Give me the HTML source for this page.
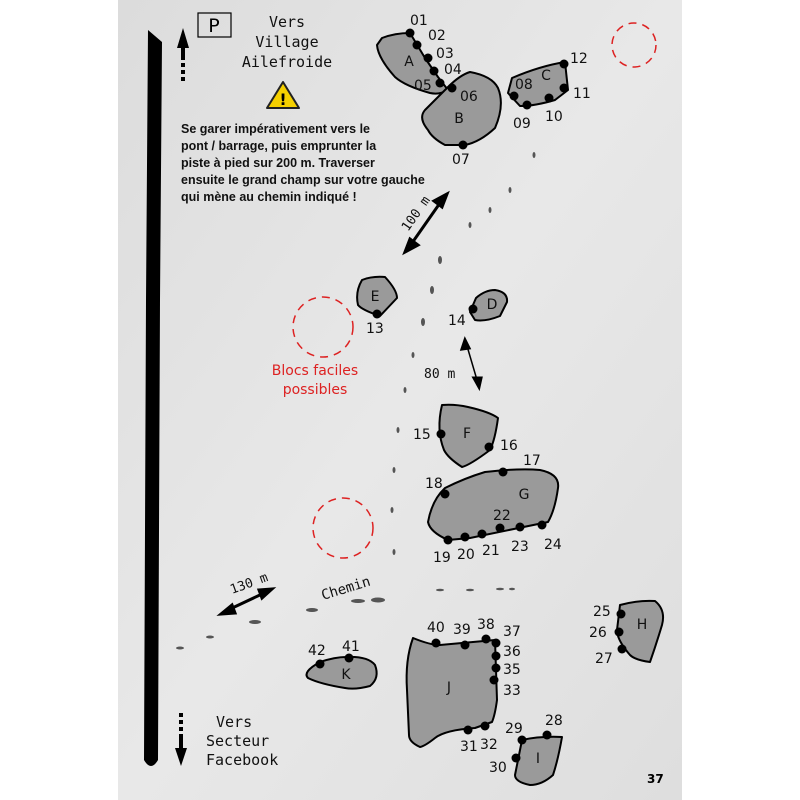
<!DOCTYPE html>
<html><head><meta charset="utf-8"><style>
html,body{margin:0;padding:0;background:#fff}
svg{display:block}
text{font-family:"DejaVu Sans","Liberation Sans",sans-serif}
.n{font-size:14px;fill:#111}
.m{font-family:"DejaVu Sans Mono","Liberation Mono",monospace;font-size:15px;fill:#111}
.s{fill:#9a9a9a;stroke:#000;stroke-width:2;stroke-linejoin:round}
</style></head><body>
<svg width="800" height="800" viewBox="0 0 800 800" xmlns="http://www.w3.org/2000/svg">
<defs><linearGradient id="g" x1="0" y1="0" x2="1" y2="1"><stop offset="0" stop-color="#dcdcdc"/><stop offset="0.5" stop-color="#e8e8e8"/><stop offset="1" stop-color="#dedede"/></linearGradient></defs>
<rect x="118" y="0" width="564" height="800" fill="url(#g)"/>
<path d="M148 30 L162 42 L160 300 L158 760 Q151 772 144 760 L146 300 Z" fill="#000"/>
<path d="M183 28 L177 48 L181 48 L181 60 L185 60 L185 48 L189 48 Z" fill="#000"/>
<rect x="181" y="63" width="4" height="4" fill="#000"/><rect x="181" y="70" width="4" height="4" fill="#000"/><rect x="181" y="77" width="4" height="4" fill="#000"/>
<rect x="179" y="713" width="4" height="4" fill="#000"/><rect x="179" y="720" width="4" height="4" fill="#000"/><rect x="179" y="727" width="4" height="4" fill="#000"/>
<path d="M179 734 L183 734 L183 748 L187 748 L181 766 L175 748 L179 748 Z" fill="#000"/>
<rect x="198" y="13" width="33" height="24" fill="none" stroke="#000" stroke-width="1.2"/>
<text x="214" y="32" text-anchor="middle" style="font-size:19px">P</text>
<text class="m" text-anchor="middle"><tspan x="287" y="27">Vers</tspan><tspan x="287" y="47">Village</tspan><tspan x="287" y="67">Ailefroide</tspan></text>
<path d="M283 82 L299 108 L267 108 Z" fill="#f5d000" stroke="#222" stroke-width="2" stroke-linejoin="round"/>
<text x="283" y="105" text-anchor="middle" style="font-size:16px;font-weight:bold">!</text>
<text style="font-family:'Liberation Sans',sans-serif;font-weight:bold;font-size:12.5px" fill="#111"><tspan x="181" y="133">Se garer impérativement vers le</tspan><tspan x="181" y="150">pont / barrage, puis emprunter la</tspan><tspan x="181" y="167">piste à pied sur 200 m. Traverser</tspan><tspan x="181" y="184">ensuite le grand champ sur votre gauche</tspan><tspan x="181" y="201">qui mène au chemin indiqué !</tspan></text>
<g fill="none" stroke="#d22" stroke-width="1.5" stroke-dasharray="8 6">
<circle cx="634" cy="45" r="22"/><circle cx="323" cy="327" r="30"/><circle cx="343" cy="528" r="30"/></g>
<text x="315" y="375" text-anchor="middle" fill="#d22" style="font-size:14px">Blocs faciles</text>
<text x="315" y="394" text-anchor="middle" fill="#d22" style="font-size:14px">possibles</text>
<g fill="#555">
<ellipse cx="440" cy="260" rx="2" ry="4"/><ellipse cx="432" cy="290" rx="2" ry="4"/><ellipse cx="423" cy="322" rx="2" ry="4"/><ellipse cx="413" cy="355" rx="1.5" ry="3"/><ellipse cx="405" cy="390" rx="1.5" ry="3"/><ellipse cx="398" cy="430" rx="1.5" ry="3"/><ellipse cx="394" cy="470" rx="1.5" ry="3"/><ellipse cx="392" cy="510" rx="1.5" ry="3"/><ellipse cx="394" cy="552" rx="1.5" ry="3"/>
<ellipse cx="510" cy="190" rx="1.5" ry="3"/><ellipse cx="490" cy="210" rx="1.5" ry="3"/><ellipse cx="470" cy="225" rx="1.5" ry="3"/><ellipse cx="534" cy="155" rx="1.5" ry="3"/>
<ellipse cx="358" cy="601" rx="7" ry="2"/><ellipse cx="378" cy="600" rx="7" ry="2.5"/><ellipse cx="312" cy="610" rx="6" ry="2"/><ellipse cx="255" cy="622" rx="6" ry="2"/><ellipse cx="210" cy="637" rx="4" ry="1.5"/><ellipse cx="180" cy="648" rx="4" ry="1.5"/>
<ellipse cx="440" cy="590" rx="4" ry="1.2"/><ellipse cx="470" cy="590" rx="4" ry="1.2"/><ellipse cx="500" cy="589" rx="4" ry="1.2"/><ellipse cx="512" cy="589" rx="3" ry="1.2"/>
</g>
<g stroke="#000" stroke-width="3" fill="#000">
<line x1="412" y1="243" x2="440" y2="203"/><path d="M447 194 L434 201 L442 207 Z"/><path d="M405 252 L418 245 L410 239 Z"/>
<line x1="467" y1="346" x2="477" y2="380" stroke-width="1.5"/><path d="M465 340 L462 349 L469 348 Z"/><path d="M479 387 L474 378 L481 378 Z"/>
<line x1="228" y1="610" x2="262" y2="594"/><path d="M221 614 L232 605 L235 613 Z"/><path d="M272 589 L259 590 L262 598 Z"/>
</g>
<text class="m" transform="translate(408 232) rotate(-55)" style="font-size:13px">100 m</text>
<text class="m" x="424" y="378" style="font-size:13px">80 m</text>
<text class="m" transform="translate(232 594) rotate(-20)" style="font-size:13px">130 m</text>
<text class="m" transform="translate(323 600) rotate(-17)" style="font-size:14px">Chemin</text>
<path class="s" d="M382 38 Q395 33 410 33 L425 58 L438 77 L448 90 Q440 95 430 93 Q405 86 395 77 Q378 58 377 45 Z"/>
<path class="s" d="M448 87 Q460 75 470 72 Q492 76 498 88 Q505 105 495 128 Q480 142 465 145 L445 145 Q432 138 428 130 Q418 118 425 110 Z"/>
<path class="s" d="M512 78 Q540 66 565 62 L568 90 L555 100 Q535 106 520 106 L508 93 Z"/>
<path class="s" d="M362 280 Q372 276 385 277 Q397 290 397 298 L380 316 Q362 310 358 305 Q355 292 362 280 Z"/>
<path class="s" d="M476 298 Q485 290 495 290 Q508 292 507 302 L500 316 Q485 322 475 320 L470 312 Z"/>
<path class="s" d="M442 405 Q455 404 468 407 Q490 412 498 418 Q495 440 490 450 Q470 465 462 467 Q448 458 444 450 Q436 430 442 405 Z"/>
<path class="s" d="M445 488 Q465 478 485 472 Q520 468 540 470 Q560 474 558 488 Q555 510 548 522 Q500 532 470 538 L448 540 Q430 532 428 522 Q432 500 445 488 Z"/>
<path class="s" d="M620 605 Q638 600 655 601 Q666 610 662 625 Q656 645 650 662 Q635 660 630 655 Q617 640 617 630 Z"/>
<path class="s" d="M413 638 Q430 645 440 645 L495 640 L497 700 Q495 715 492 722 L475 728 Q445 730 435 738 Q425 746 420 747 Q409 742 409 735 L407 690 Q405 660 413 638 Z"/>
<path class="s" d="M320 662 Q335 657 346 657 Q368 656 375 665 Q380 678 370 686 Q355 690 345 688 Q320 684 308 678 Q302 672 320 662 Z"/>
<path class="s" d="M522 740 Q540 736 562 737 Q558 760 553 775 Q542 785 530 785 Q515 782 515 775 L518 760 Z"/>
<g class="n" text-anchor="middle">
<text x="409" y="66">A</text><text x="459" y="123">B</text><text x="546" y="80">C</text><text x="375" y="301">E</text><text x="492" y="309">D</text><text x="467" y="438">F</text><text x="524" y="499">G</text><text x="642" y="629">H</text><text x="449" y="692">J</text><text x="346" y="679">K</text><text x="538" y="763">I</text>
</g>
<g fill="#000">
<circle cx="410" cy="33" r="4.5"/><circle cx="417" cy="45" r="4.5"/><circle cx="428" cy="58" r="4.5"/><circle cx="434" cy="71" r="4.5"/><circle cx="440" cy="83" r="4.5"/><circle cx="452" cy="88" r="4.5"/><circle cx="463" cy="145" r="4.5"/>
<circle cx="514" cy="96" r="4.5"/><circle cx="527" cy="105" r="4.5"/><circle cx="549" cy="98" r="4.5"/><circle cx="564" cy="88" r="4.5"/><circle cx="564" cy="64" r="4.5"/>
<circle cx="377" cy="314" r="4.5"/><circle cx="473" cy="309" r="4.5"/>
<circle cx="441" cy="434" r="4.5"/><circle cx="489" cy="447" r="4.5"/>
<circle cx="503" cy="472" r="4.5"/><circle cx="445" cy="494" r="4.5"/><circle cx="448" cy="540" r="4.5"/><circle cx="465" cy="537" r="4.5"/><circle cx="482" cy="534" r="4.5"/><circle cx="500" cy="528" r="4.5"/><circle cx="520" cy="527" r="4.5"/><circle cx="542" cy="525" r="4.5"/>
<circle cx="621" cy="614" r="4.5"/><circle cx="619" cy="632" r="4.5"/><circle cx="622" cy="649" r="4.5"/>
<circle cx="436" cy="643" r="4.5"/><circle cx="465" cy="645" r="4.5"/><circle cx="486" cy="639" r="4.5"/><circle cx="496" cy="643" r="4.5"/><circle cx="496" cy="656" r="4.5"/><circle cx="496" cy="668" r="4.5"/><circle cx="494" cy="680" r="4.5"/><circle cx="485" cy="726" r="4.5"/><circle cx="468" cy="730" r="4.5"/>
<circle cx="522" cy="740" r="4.5"/><circle cx="547" cy="735" r="4.5"/><circle cx="516" cy="758" r="4.5"/>
<circle cx="320" cy="664" r="4.5"/><circle cx="349" cy="658" r="4.5"/>
</g>
<g class="n">
<text x="410" y="25">01</text><text x="428" y="40">02</text><text x="436" y="58">03</text><text x="444" y="74">04</text><text x="414" y="90">05</text><text x="460" y="101">06</text><text x="452" y="164">07</text>
<text x="515" y="89">08</text><text x="513" y="128">09</text><text x="545" y="121">10</text><text x="573" y="98">11</text><text x="570" y="63">12</text>
<text x="366" y="333">13</text><text x="448" y="325">14</text>
<text x="413" y="439">15</text><text x="500" y="450">16</text><text x="523" y="465">17</text><text x="425" y="488">18</text>
<text x="433" y="562">19</text><text x="457" y="559">20</text><text x="482" y="555">21</text><text x="493" y="520">22</text><text x="511" y="551">23</text><text x="544" y="549">24</text>
<text x="593" y="616">25</text><text x="589" y="637">26</text><text x="595" y="663">27</text>
<text x="545" y="725">28</text><text x="505" y="733">29</text><text x="489" y="772">30</text><text x="460" y="751">31</text><text x="480" y="749">32</text>
<text x="503" y="695">33</text><text x="503" y="674">35</text><text x="503" y="656">36</text><text x="503" y="636">37</text><text x="477" y="629">38</text><text x="453" y="634">39</text><text x="427" y="632">40</text>
<text x="342" y="651">41</text><text x="308" y="655">42</text>
</g>
<text class="m" x="216" y="727">Vers</text>
<text class="m" x="206" y="746">Secteur</text>
<text class="m" x="206" y="765">Facebook</text>
<text x="647" y="783" style="font-size:12px;font-weight:bold">37</text>
</svg>
</body></html>
